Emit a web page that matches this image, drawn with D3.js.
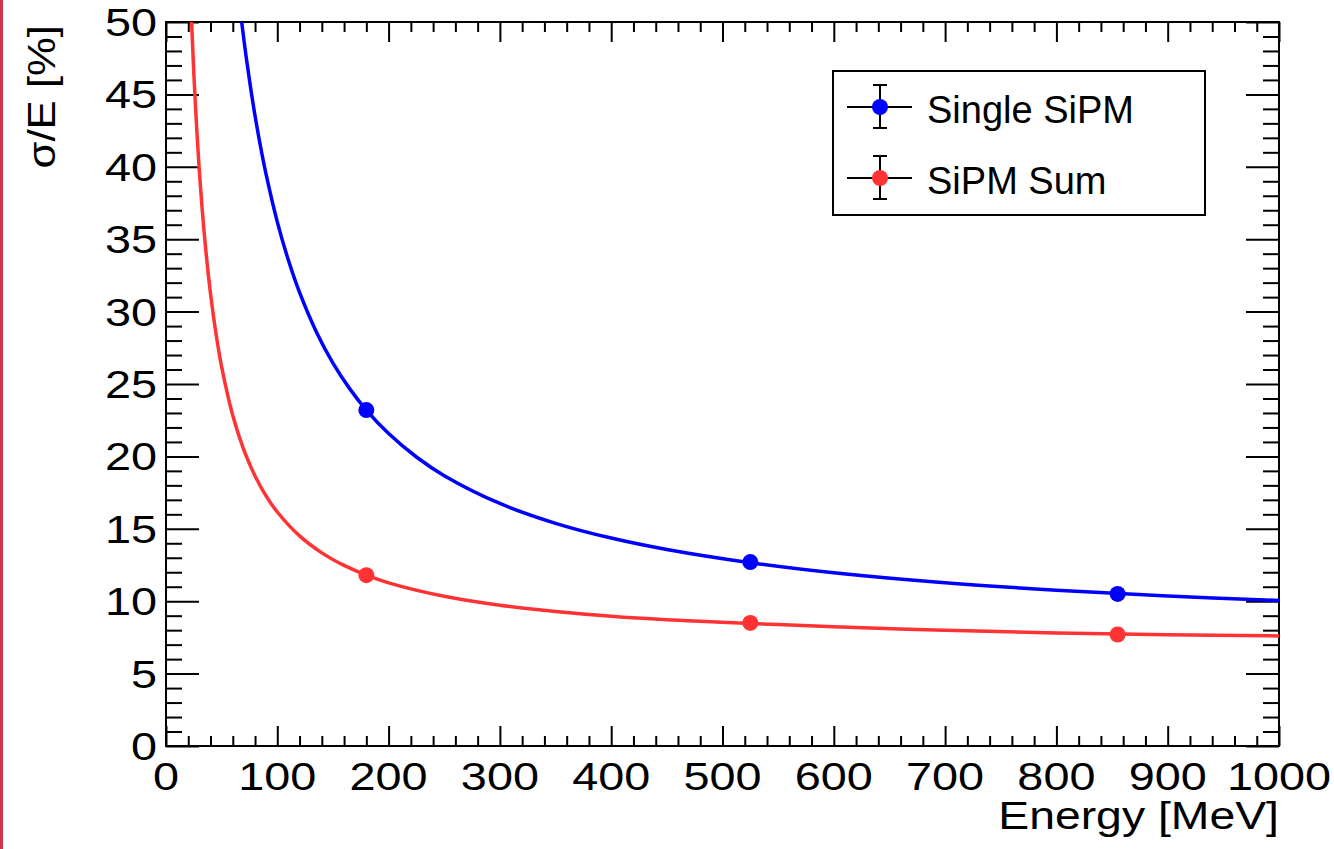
<!DOCTYPE html>
<html>
<head>
<meta charset="utf-8">
<script src="https://cdn.jsdelivr.net/npm/d3@7"></script>
<style>
  html, body { margin: 0; padding: 0; background: #ffffff; }
  svg { display: block; }
  text { font-family: "Liberation Sans", Arial, Helvetica, sans-serif; fill: #000; }
</style>
</head>
<body>
<svg id="chart" width="1334" height="849"></svg>
<script>
// Measured resolution points
const energies = [180, 525, 855];
const singleSipm = [23.2, 12.7, 10.5];
const sipmSum = [11.8, 8.5, 7.7];

// Fitted resolution curves, sampled along energy
const singleFitE = [66, 68, 72, 76, 80, 85, 90, 100, 110, 120, 135, 150, 165, 180, 200, 225, 250, 300, 350, 400, 450, 525, 600, 700, 800, 900, 1000];
const singleFitV = [51.3, 50.0, 47.6, 45.46, 43.53, 41.37, 39.46, 36.2, 33.54, 31.32, 28.61, 26.44, 24.68, 23.2, 21.58, 19.96, 18.67, 16.75, 15.38, 14.36, 13.57, 12.66, 11.96, 11.27, 10.76, 10.36, 10.05];
const sumFitE = [22, 23, 25, 28, 31, 35, 40, 45, 50, 60, 70, 80, 90, 100, 120, 140, 160, 180, 200, 250, 300, 350, 400, 450, 525, 600, 700, 800, 900, 1000];
const sumFitV = [52.0, 50.0, 46.46, 42.11, 38.6, 34.86, 31.24, 28.43, 26.18, 22.82, 20.43, 18.65, 17.26, 16.16, 14.51, 13.34, 12.47, 11.8, 11.27, 10.34, 9.72, 9.29, 8.96, 8.72, 8.46, 8.24, 7.99, 7.81, 7.69, 7.6];

const xTicks = [0, 100, 200, 300, 400, 500, 600, 700, 800, 900, 1000];
const yTicks = [0, 5, 10, 15, 20, 25, 30, 35, 40, 45, 50];
const xMinorTicks = d3.range(0, 1001, 20);
const yMinorTicks = d3.range(0, 51, 1);

const seriesNames = ["Single SiPM", "SiPM Sum"];
const seriesColors = ["#0000ff", "#ff3333"];

const svg = d3.select("#chart");
const W = 1334, H = 849;
const frame = { left: 166, right: 1279, top: 22, bottom: 746 };

const x = d3.scaleLinear().domain([0, 1000]).range([frame.left, frame.right]);
const y = d3.scaleLinear().domain([0, 50]).range([frame.bottom, frame.top]);

// page background and the thin accent bar along the left edge
svg.append("rect").attr("width", W).attr("height", H).attr("fill", "#fff");
svg.append("rect").attr("x", 0).attr("y", 0).attr("width", 3).attr("height", H).attr("fill", "#d0344c");

// clip region for curves
svg.append("defs").append("clipPath").attr("id", "plotClip")
  .append("rect")
  .attr("x", frame.left).attr("y", frame.top)
  .attr("width", frame.right - frame.left).attr("height", frame.bottom - frame.top);

// ---- tick marks on all four sides ----
function tickAxis(gen, ticks, size, tx, ty) {
  const g = svg.append("g").attr("transform", `translate(${tx},${ty})`)
    .call(gen.tickValues(ticks).tickSizeInner(size).tickSizeOuter(0).tickFormat(""));
  g.select(".domain").remove();
  g.selectAll("line").attr("stroke", "#000").attr("stroke-width", 2);
  return g;
}
const xMinorOnly = xMinorTicks.filter(v => v % 100 !== 0);
const yMinorOnly = yMinorTicks.filter(v => v % 5 !== 0);

tickAxis(d3.axisBottom(x), xTicks, -20, 0, frame.bottom);
tickAxis(d3.axisBottom(x), xMinorOnly, -10, 0, frame.bottom);
tickAxis(d3.axisTop(x), xTicks, -20, 0, frame.top);
tickAxis(d3.axisTop(x), xMinorOnly, -10, 0, frame.top);
tickAxis(d3.axisLeft(y), yTicks, -33, frame.left, 0);
tickAxis(d3.axisLeft(y), yMinorOnly, -16, frame.left, 0);
tickAxis(d3.axisRight(y), yTicks, -33, frame.right, 0);
tickAxis(d3.axisRight(y), yMinorOnly, -16, frame.right, 0);

// frame
svg.append("rect")
  .attr("x", frame.left).attr("y", frame.top)
  .attr("width", frame.right - frame.left).attr("height", frame.bottom - frame.top)
  .attr("fill", "none").attr("stroke", "#000").attr("stroke-width", 2);

// ---- tick labels (wide face: stretched horizontally) ----
const labelSize = 39, labelStretch = 1.2;
svg.append("g").selectAll("text").data(xTicks).join("text")
  .attr("transform", d => `translate(${x(d)},790) scale(${labelStretch},1)`)
  .attr("text-anchor", "middle")
  .attr("font-size", labelSize)
  .text(d => d);

svg.append("g").selectAll("text").data(yTicks).join("text")
  .attr("transform", d => `translate(157,${y(d) + 14}) scale(${labelStretch},1)`)
  .attr("text-anchor", "end")
  .attr("font-size", labelSize)
  .text(d => d);

// axis titles
svg.append("text")
  .attr("transform", `translate(1279,829) scale(1.22,1)`)
  .attr("text-anchor", "end")
  .attr("font-size", 38)
  .text("Energy [MeV]");

svg.append("text")
  .attr("transform", `translate(55,25) rotate(-90) scale(1.15,1)`)
  .attr("text-anchor", "end")
  .attr("font-size", 38)
  .text("σ/E [%]");

// ---- fitted curves ----
const line = d3.line()
  .x(d => x(d[0])).y(d => y(d[1]))
  .curve(d3.curveCatmullRom.alpha(0.5));

const curves = [
  d3.zip(singleFitE, singleFitV),
  d3.zip(sumFitE, sumFitV)
];
const plot = svg.append("g").attr("clip-path", "url(#plotClip)");
curves.forEach((pts, i) => {
  plot.append("path")
    .attr("d", line(pts))
    .attr("fill", "none")
    .attr("stroke", seriesColors[i])
    .attr("stroke-width", 3.5);
});

// ---- measured points ----
[singleSipm, sipmSum].forEach((vals, i) => {
  svg.append("g").selectAll("circle").data(d3.zip(energies, vals)).join("circle")
    .attr("cx", d => x(d[0])).attr("cy", d => y(d[1]))
    .attr("r", 8)
    .attr("fill", seriesColors[i]);
});

// ---- legend ----
const legend = svg.append("g");
legend.append("rect")
  .attr("x", 833).attr("y", 71).attr("width", 372).attr("height", 144)
  .attr("fill", "#fff").attr("stroke", "#000").attr("stroke-width", 2);

const legendRows = [107, 178];
seriesNames.forEach((name, i) => {
  const cy = legendRows[i];
  const cx = 880;
  const g = legend.append("g");
  g.append("line").attr("x1", 847).attr("x2", 912).attr("y1", cy).attr("y2", cy)
    .attr("stroke", "#000").attr("stroke-width", 2);
  g.append("line").attr("x1", cx).attr("x2", cx).attr("y1", cy - 22).attr("y2", cy + 21)
    .attr("stroke", "#000").attr("stroke-width", 2);
  g.append("line").attr("x1", cx - 7).attr("x2", cx + 7).attr("y1", cy - 22).attr("y2", cy - 22)
    .attr("stroke", "#000").attr("stroke-width", 2);
  g.append("line").attr("x1", cx - 7).attr("x2", cx + 7).attr("y1", cy + 21).attr("y2", cy + 21)
    .attr("stroke", "#000").attr("stroke-width", 2);
  g.append("circle").attr("cx", cx).attr("cy", cy).attr("r", 8).attr("fill", seriesColors[i]);
  g.append("text")
    .attr("x", 927).attr("y", cy + 16)
    .attr("font-size", 38)
    .text(name);
});
</script>
</body>
</html>
